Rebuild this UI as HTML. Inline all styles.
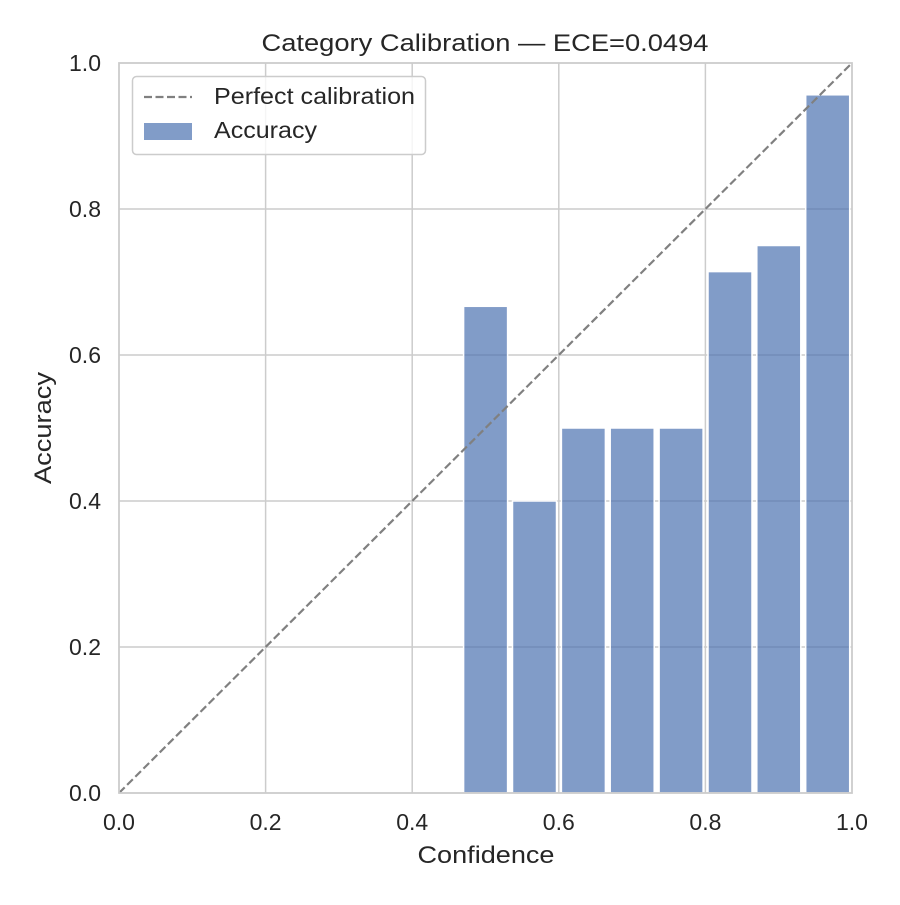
<!DOCTYPE html>
<html><head><style>body{margin:0;background:#fff}</style></head><body>
<svg width="900" height="900" xmlns="http://www.w3.org/2000/svg" font-family="Liberation Sans, DejaVu Sans, sans-serif">
<rect width="900" height="900" fill="#fff"/>
<g stroke="#cccccc" stroke-width="1.5">
<line x1="265.6" y1="63" x2="265.6" y2="793"/><line x1="412.2" y1="63" x2="412.2" y2="793"/><line x1="558.8" y1="63" x2="558.8" y2="793"/><line x1="705.4" y1="63" x2="705.4" y2="793"/>
<line x1="119" y1="647" x2="852" y2="647"/><line x1="119" y1="501" x2="852" y2="501"/><line x1="119" y1="355" x2="852" y2="355"/><line x1="119" y1="209" x2="852" y2="209"/>
</g>
<g fill="#4c72b0" fill-opacity="0.7" stroke="#fff" stroke-width="1.5">
<rect x="463.6" y="306.3" width="44" height="486.7"/>
<rect x="512.5" y="501" width="44" height="292"/>
<rect x="561.4" y="428" width="44" height="365"/>
<rect x="610.2" y="428" width="44" height="365"/>
<rect x="659.1" y="428" width="44" height="365"/>
<rect x="708" y="271.6" width="44" height="521.4"/>
<rect x="756.8" y="245.5" width="44" height="547.5"/>
<rect x="805.7" y="94.8" width="44" height="698.2"/>
</g>
<line x1="119" y1="793" x2="852" y2="63" stroke="#808080" stroke-width="2.2" stroke-dasharray="8,3.5"/>
<rect x="119" y="63" width="733" height="730" fill="none" stroke="#cccccc" stroke-width="1.8"/>
<g fill="#262626">
<text x="485" y="51" text-anchor="middle" font-size="24" textLength="447" lengthAdjust="spacingAndGlyphs">Category Calibration — ECE=0.0494</text>
<g text-anchor="middle" font-size="23">
<text x="119" y="830">0.0</text><text x="265.6" y="830">0.2</text><text x="412.2" y="830">0.4</text><text x="558.8" y="830">0.6</text><text x="705.4" y="830">0.8</text><text x="852" y="830">1.0</text>
</g>
<text x="486" y="863" text-anchor="middle" font-size="24" textLength="137" lengthAdjust="spacingAndGlyphs">Confidence</text>
<g text-anchor="end" font-size="23">
<text x="101" y="801">0.0</text><text x="101" y="655">0.2</text><text x="101" y="509">0.4</text><text x="101" y="363">0.6</text><text x="101" y="217">0.8</text><text x="101" y="71">1.0</text>
</g>
<text transform="translate(51,428) rotate(-90)" text-anchor="middle" font-size="24" textLength="112" lengthAdjust="spacingAndGlyphs">Accuracy</text>
</g>
<rect x="132.5" y="76.5" width="293" height="78" rx="4" fill="#fff" fill-opacity="0.8" stroke="#cccccc" stroke-width="1.5"/>
<line x1="144" y1="97" x2="192" y2="97" stroke="#808080" stroke-width="2.2" stroke-dasharray="8,3.5"/>
<rect x="144" y="123" width="48" height="17" fill="#4c72b0" fill-opacity="0.7"/>
<g font-size="23" fill="#262626">
<text x="214" y="104" textLength="201" lengthAdjust="spacingAndGlyphs">Perfect calibration</text>
<text x="214" y="138" textLength="103" lengthAdjust="spacingAndGlyphs">Accuracy</text>
</g>
</svg>
</body></html>
